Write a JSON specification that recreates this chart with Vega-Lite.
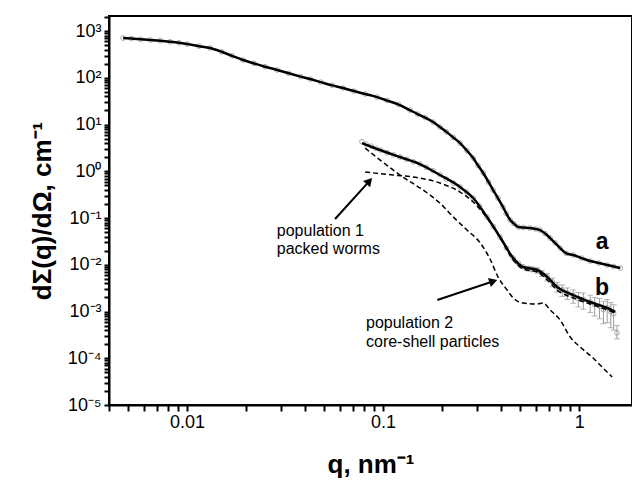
{
  "$schema": "https://vega.github.io/schema/vega-lite/v6.json",
  "width": 523,
  "height": 389,
  "autosize": {"type": "none"},
  "padding": {"left": 109, "top": 16, "right": 0, "bottom": 76},
  "background": "white",
  "config": {
    "view": {"stroke": "black", "strokeWidth": 2}
  },
  "datasets": {
    "adata": [
      {"q": 0.00472, "I": 708}, {"q": 0.0052, "I": 690}, {"q": 0.0058, "I": 670}, {"q": 0.0065, "I": 645},
      {"q": 0.0073, "I": 620}, {"q": 0.0082, "I": 590}, {"q": 0.0091, "I": 560}, {"q": 0.010, "I": 527},
      {"q": 0.0115, "I": 475}, {"q": 0.0131, "I": 433}, {"q": 0.015, "I": 360}, {"q": 0.017, "I": 295},
      {"q": 0.0193, "I": 240}, {"q": 0.022, "I": 203}, {"q": 0.025, "I": 173}, {"q": 0.0288, "I": 147},
      {"q": 0.033, "I": 125}, {"q": 0.038, "I": 106}, {"q": 0.0424, "I": 94}, {"q": 0.048, "I": 81},
      {"q": 0.055, "I": 69}, {"q": 0.0625, "I": 60.4}, {"q": 0.071, "I": 52}, {"q": 0.081, "I": 45},
      {"q": 0.0932, "I": 38.7}, {"q": 0.105, "I": 32.6}, {"q": 0.12, "I": 26.8}, {"q": 0.137, "I": 20.4},
      {"q": 0.15, "I": 16.8}, {"q": 0.164, "I": 14.1}, {"q": 0.18, "I": 11.3}, {"q": 0.195, "I": 8.85},
      {"q": 0.21, "I": 7.0}, {"q": 0.228, "I": 5.3}, {"q": 0.247, "I": 4.02}, {"q": 0.268, "I": 2.75},
      {"q": 0.288, "I": 1.92}, {"q": 0.305, "I": 1.33}, {"q": 0.324, "I": 0.918}, {"q": 0.345, "I": 0.59},
      {"q": 0.364, "I": 0.397}, {"q": 0.385, "I": 0.268}, {"q": 0.409, "I": 0.172}, {"q": 0.425, "I": 0.125},
      {"q": 0.445, "I": 0.0906}, {"q": 0.465, "I": 0.0758}, {"q": 0.489, "I": 0.0642}, {"q": 0.52, "I": 0.0627},
      {"q": 0.562, "I": 0.0611}, {"q": 0.6, "I": 0.0585}, {"q": 0.632, "I": 0.0553}, {"q": 0.67, "I": 0.0466},
      {"q": 0.711, "I": 0.0373}, {"q": 0.755, "I": 0.0292}, {"q": 0.8, "I": 0.0228}, {"q": 0.86, "I": 0.0175},
      {"q": 0.932, "I": 0.0162}, {"q": 1.03, "I": 0.0139}, {"q": 1.138, "I": 0.012}, {"q": 1.26, "I": 0.0109},
      {"q": 1.39, "I": 0.00988}, {"q": 1.5, "I": 0.00918}, {"q": 1.62, "I": 0.00851}
    ],
    "bdata": [
      {"q": 0.078, "I": 4.3}, {"q": 0.082, "I": 3.8}, {"q": 0.087, "I": 3.45}, {"q": 0.092, "I": 3.1},
      {"q": 0.097, "I": 2.85}, {"q": 0.105, "I": 2.5}, {"q": 0.113, "I": 2.25}, {"q": 0.122, "I": 2.02},
      {"q": 0.132, "I": 1.8}, {"q": 0.143, "I": 1.6}, {"q": 0.154, "I": 1.43}, {"q": 0.166, "I": 1.22},
      {"q": 0.18, "I": 1.03}, {"q": 0.195, "I": 0.84}, {"q": 0.21, "I": 0.68}, {"q": 0.228, "I": 0.56},
      {"q": 0.247, "I": 0.46}, {"q": 0.267, "I": 0.36}, {"q": 0.288, "I": 0.268}, {"q": 0.31, "I": 0.18},
      {"q": 0.339, "I": 0.105}, {"q": 0.365, "I": 0.066}, {"q": 0.395, "I": 0.039}, {"q": 0.425, "I": 0.023},
      {"q": 0.461, "I": 0.0139}, {"q": 0.49, "I": 0.0108}, {"q": 0.518, "I": 0.0091},
      {"q": 0.55, "I": 0.0083, "lo": 0.0074, "hi": 0.0092},
      {"q": 0.58, "I": 0.0080, "lo": 0.0071, "hi": 0.0089},
      {"q": 0.611, "I": 0.0076, "lo": 0.0066, "hi": 0.0086},
      {"q": 0.645, "I": 0.0066, "lo": 0.0056, "hi": 0.0076},
      {"q": 0.687, "I": 0.0055, "lo": 0.0045, "hi": 0.0065},
      {"q": 0.73, "I": 0.0043, "lo": 0.0034, "hi": 0.0052},
      {"q": 0.772, "I": 0.0034, "lo": 0.0026, "hi": 0.0042},
      {"q": 0.82, "I": 0.0029, "lo": 0.0021, "hi": 0.0037},
      {"q": 0.87, "I": 0.0025, "lo": 0.0018, "hi": 0.0032},
      {"q": 0.932, "I": 0.0022, "lo": 0.0015, "hi": 0.0029},
      {"q": 0.99, "I": 0.0019, "lo": 0.00125, "hi": 0.00255},
      {"q": 1.05, "I": 0.0018, "lo": 0.00112, "hi": 0.00248},
      {"q": 1.138, "I": 0.0016, "lo": 0.00095, "hi": 0.00225},
      {"q": 1.2, "I": 0.0014, "lo": 0.0008, "hi": 0.002},
      {"q": 1.27, "I": 0.0013, "lo": 0.0007, "hi": 0.0019},
      {"q": 1.33, "I": 0.0011, "lo": 0.00055, "hi": 0.00165},
      {"q": 1.39, "I": 0.0012, "lo": 0.00058, "hi": 0.0018},
      {"q": 1.45, "I": 0.0010, "lo": 0.00045, "hi": 0.00155},
      {"q": 1.5, "I": 0.0009, "lo": 0.0004, "hi": 0.0014},
      {"q": 1.56, "I": 0.00035, "lo": 0.00026, "hi": 0.0005}
    ],
    "bfit": [
      {"q": 0.0781, "I": 4.02}, {"q": 0.0966, "I": 2.85}, {"q": 0.122, "I": 2.02}, {"q": 0.154, "I": 1.43},
      {"q": 0.195, "I": 0.832}, {"q": 0.247, "I": 0.46}, {"q": 0.288, "I": 0.268}, {"q": 0.339, "I": 0.105},
      {"q": 0.395, "I": 0.0392}, {"q": 0.461, "I": 0.0139}, {"q": 0.518, "I": 0.00895}, {"q": 0.611, "I": 0.00773},
      {"q": 0.687, "I": 0.00547}, {"q": 0.772, "I": 0.00334}, {"q": 0.932, "I": 0.00225}, {"q": 1.138, "I": 0.0016},
      {"q": 1.39, "I": 0.00119}, {"q": 1.527, "I": 0.00098}
    ],
    "pop1": [
      {"q": 0.081, "I": 0.964}, {"q": 0.1125, "I": 0.832}, {"q": 0.154, "I": 0.718}, {"q": 0.195, "I": 0.561},
      {"q": 0.247, "I": 0.36}, {"q": 0.288, "I": 0.22}, {"q": 0.339, "I": 0.1}, {"q": 0.395, "I": 0.0378},
      {"q": 0.461, "I": 0.0126}, {"q": 0.518, "I": 0.0081}, {"q": 0.611, "I": 0.0070}, {"q": 0.687, "I": 0.00472},
      {"q": 0.772, "I": 0.00288}, {"q": 0.932, "I": 0.00195}, {"q": 1.138, "I": 0.00145}, {"q": 1.39, "I": 0.00108},
      {"q": 1.527, "I": 0.00093}
    ],
    "pop2": [
      {"q": 0.081, "I": 3.14}, {"q": 0.0966, "I": 1.74}, {"q": 0.122, "I": 0.832}, {"q": 0.168, "I": 0.343},
      {"q": 0.195, "I": 0.209}, {"q": 0.228, "I": 0.105}, {"q": 0.268, "I": 0.0553}, {"q": 0.313, "I": 0.0292},
      {"q": 0.351, "I": 0.0133}, {"q": 0.386, "I": 0.00547}, {"q": 0.429, "I": 0.00288}, {"q": 0.461, "I": 0.00195},
      {"q": 0.518, "I": 0.00152}, {"q": 0.611, "I": 0.00145}, {"q": 0.655, "I": 0.00152}, {"q": 0.711, "I": 0.00108},
      {"q": 0.8, "I": 0.000658}, {"q": 0.9, "I": 0.000285}, {"q": 1.012, "I": 0.000174}, {"q": 1.178, "I": 0.000101},
      {"q": 1.325, "I": 0.0000618}, {"q": 1.473, "I": 0.0000397}
    ],
    "arrows": [
      {"id": 1, "q": 0.0569, "I": 0.0953, "q2": 0.0851, "I2": 0.618},
      {"id": 2, "q": 0.189, "I": 0.00176, "q2": 0.365, "I2": 0.00443}
    ],
    "notes": [
      {"q": 0.0287, "I": 0.0527, "text": "population 1"},
      {"q": 0.0287, "I": 0.0217, "text": "packed worms"},
      {"q": 0.0818, "I": 0.000567, "text": "population 2"},
      {"q": 0.0818, "I": 0.000223, "text": "core-shell particles"}
    ],
    "curvelabels": [
      {"q": 1.31, "I": 0.0307, "text": "a"},
      {"q": 1.31, "I": 0.00318, "text": "b"}
    ]
  },
  "encoding": {
    "x": {
      "field": "q", "type": "quantitative", "title": "q, nm⁻¹",
      "scale": {"type": "log", "domain": [0.004, 1.86], "nice": false},
      "axis": {
        "values": [0.004, 0.005, 0.006, 0.007, 0.008, 0.009, 0.01, 0.02, 0.03, 0.04, 0.05, 0.06, 0.07, 0.08, 0.09, 0.1, 0.2, 0.3, 0.4, 0.5, 0.6, 0.7, 0.8, 0.9, 1],
        "labelExpr": "abs(log(datum.value)/LN10 - round(log(datum.value)/LN10)) < 0.01 ? (datum.value < 0.05 ? '0.01' : (datum.value < 0.5 ? '0.1' : '1')) : ''",
        "grid": false, "zindex": 1,
        "tickSize": 6, "tickColor": "black", "tickWidth": 2,
        "domainColor": "black", "domainWidth": 2,
        "labelFont": "Liberation Sans", "labelFontSize": 18, "labelColor": "black",
        "labelPadding": 2, "labelOverlap": false,
        "titleFont": "Liberation Sans", "titleFontSize": 26, "titleFontWeight": "bold", "titleColor": "black", "titlePadding": 20
      }
    },
    "y": {
      "field": "I", "type": "quantitative", "title": "dΣ(q)/dΩ, cm⁻¹",
      "scale": {"type": "log", "domain": [0.00001, 2100], "nice": false},
      "axis": {
        "values": [1e-5, 2e-5, 3e-5, 4e-5, 5e-5, 6e-5, 7e-5, 8e-5, 9e-5, 1e-4, 2e-4, 3e-4, 4e-4, 5e-4, 6e-4, 7e-4, 8e-4, 9e-4, 0.001, 0.002, 0.003, 0.004, 0.005, 0.006, 0.007, 0.008, 0.009, 0.01, 0.02, 0.03, 0.04, 0.05, 0.06, 0.07, 0.08, 0.09, 0.1, 0.2, 0.3, 0.4, 0.5, 0.6, 0.7, 0.8, 0.9, 1, 2, 3, 4, 5, 6, 7, 8, 9, 10, 20, 30, 40, 50, 60, 70, 80, 90, 100, 200, 300, 400, 500, 600, 700, 800, 900, 1000, 2000],
        "labelExpr": "abs(log(datum.value)/LN10 - round(log(datum.value)/LN10)) < 0.01 ? ['10⁻⁵','10⁻⁴','10⁻³','10⁻²','10⁻¹','10⁰','10¹','10²','10³'][round(log(datum.value)/LN10) + 5] : ''",
        "grid": false, "zindex": 1,
        "tickSize": 5, "tickColor": "black", "tickWidth": 2,
        "domainColor": "black", "domainWidth": 2,
        "labelFont": "Liberation Sans", "labelFontSize": 18, "labelColor": "black",
        "labelPadding": 3, "labelOverlap": false,
        "titleFont": "Liberation Sans", "titleFontSize": 26, "titleFontWeight": "bold", "titleColor": "black", "titlePadding": 12
      }
    }
  },
  "layer": [
    {
      "data": {"name": "adata"},
      "mark": {"type": "point", "shape": "circle", "filled": false, "stroke": "#8a8a8a", "strokeWidth": 1, "size": 22}
    },
    {
      "data": {"name": "adata"},
      "mark": {"type": "line", "color": "black", "strokeWidth": 2.5, "interpolate": "monotone"}
    },
    {
      "data": {"name": "bdata"},
      "transform": [{"filter": "isValid(datum.lo)"}],
      "mark": {"type": "rule", "color": "#9a9a9a", "strokeWidth": 1},
      "encoding": {
        "y": {"field": "lo", "type": "quantitative", "title": "dΣ(q)/dΩ, cm⁻¹"},
        "y2": {"field": "hi"}
      }
    },
    {
      "data": {"name": "bdata"},
      "transform": [{"filter": "isValid(datum.lo)"}, {"fold": ["lo", "hi"], "as": ["end", "val"]}],
      "mark": {"type": "tick", "color": "#9a9a9a", "thickness": 1, "size": 6, "orient": "horizontal"},
      "encoding": {
        "y": {"field": "val", "type": "quantitative", "title": "dΣ(q)/dΩ, cm⁻¹"}
      }
    },
    {
      "data": {"name": "bdata"},
      "mark": {"type": "point", "shape": "circle", "filled": false, "stroke": "#8a8a8a", "strokeWidth": 1, "size": 22}
    },
    {
      "data": {"name": "bfit"},
      "mark": {"type": "line", "color": "black", "strokeWidth": 2.5, "interpolate": "monotone"}
    },
    {
      "data": {"name": "pop1"},
      "mark": {"type": "line", "color": "black", "strokeWidth": 1.5, "strokeDash": [5, 3], "interpolate": "monotone"}
    },
    {
      "data": {"name": "pop2"},
      "mark": {"type": "line", "color": "black", "strokeWidth": 1.5, "strokeDash": [5, 3], "interpolate": "monotone"}
    },
    {
      "data": {"name": "arrows"},
      "mark": {"type": "rule", "color": "black", "strokeWidth": 2},
      "encoding": {
        "x2": {"field": "q2"},
        "y2": {"field": "I2"}
      }
    },
    {
      "data": {"name": "arrows"},
      "transform": [{"filter": "datum.id == 1"}],
      "mark": {"type": "point", "shape": "triangle-up", "filled": true, "color": "black", "size": 90, "angle": 42, "opacity": 1},
      "encoding": {
        "x": {"field": "q2", "type": "quantitative", "title": "q, nm⁻¹"},
        "y": {"field": "I2", "type": "quantitative", "title": "dΣ(q)/dΩ, cm⁻¹"}
      }
    },
    {
      "data": {"name": "arrows"},
      "transform": [{"filter": "datum.id == 2"}],
      "mark": {"type": "point", "shape": "triangle-up", "filled": true, "color": "black", "size": 90, "angle": 72, "opacity": 1},
      "encoding": {
        "x": {"field": "q2", "type": "quantitative", "title": "q, nm⁻¹"},
        "y": {"field": "I2", "type": "quantitative", "title": "dΣ(q)/dΩ, cm⁻¹"}
      }
    },
    {
      "data": {"name": "notes"},
      "mark": {"type": "text", "align": "left", "baseline": "middle", "font": "Liberation Sans", "fontSize": 16, "color": "black"},
      "encoding": {"text": {"field": "text"}}
    },
    {
      "data": {"name": "curvelabels"},
      "mark": {"type": "text", "align": "center", "baseline": "middle", "font": "Liberation Sans", "fontSize": 23, "fontWeight": "bold", "color": "black"},
      "encoding": {"text": {"field": "text"}}
    }
  ]
}
